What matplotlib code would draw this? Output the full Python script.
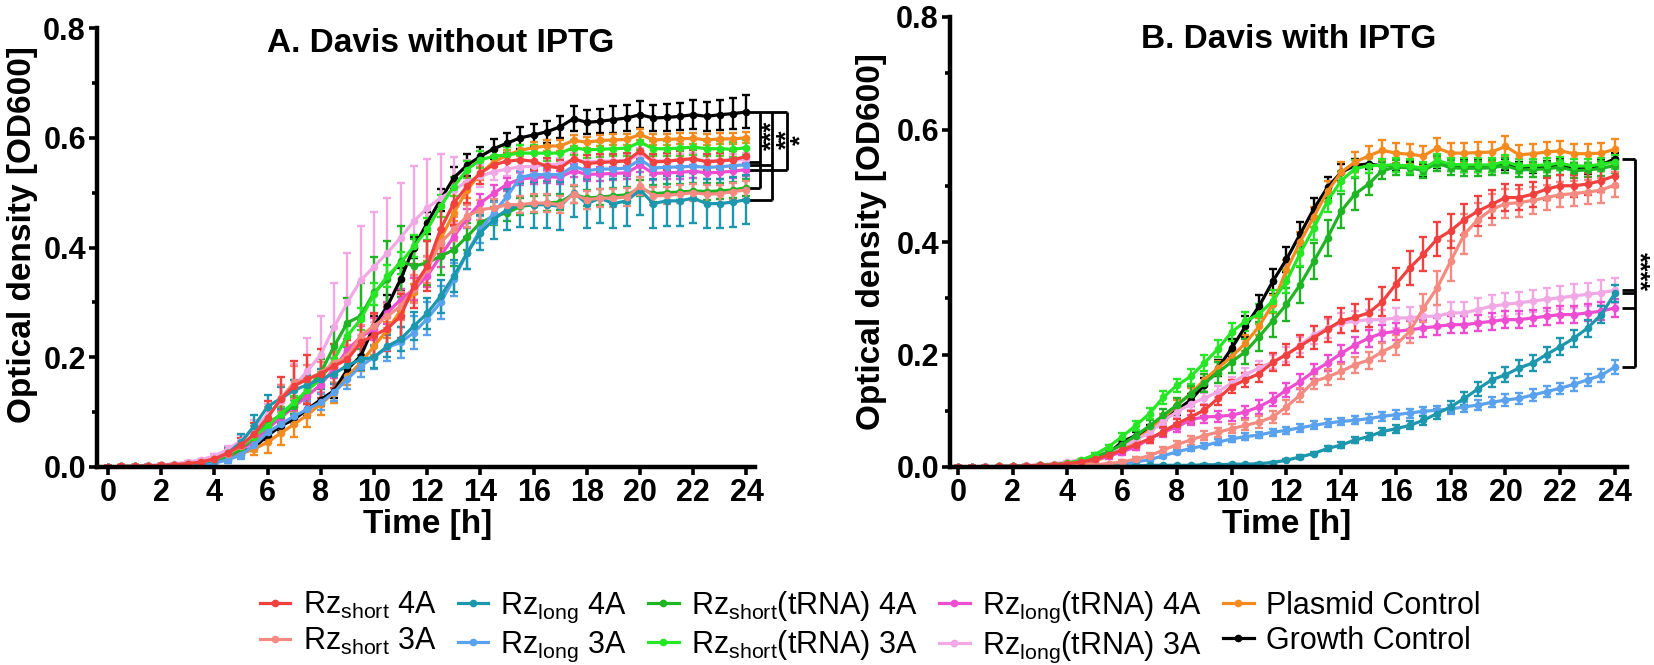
import matplotlib
matplotlib.use('Agg')
import matplotlib.pyplot as plt
from matplotlib.lines import Line2D
from matplotlib.ticker import MultipleLocator

plt.rcParams['font.family'] = ['Liberation Sans', 'DejaVu Sans']
plt.rcParams['mathtext.fontset'] = 'custom'
plt.rcParams['mathtext.rm'] = 'Liberation Sans'
plt.rcParams['mathtext.it'] = 'Liberation Sans:italic'
plt.rcParams['mathtext.bf'] = 'Liberation Sans:bold'

W, H = 1654, 665

time_h = [0, 0.5, 1, 1.5, 2, 2.5, 3, 3.5, 4, 4.5, 5, 5.5, 6, 6.5, 7, 7.5, 8, 8.5,
          9, 9.5, 10, 10.5, 11, 11.5, 12, 12.5, 13, 13.5, 14, 14.5, 15, 15.5, 16,
          16.5, 17, 17.5, 18, 18.5, 19, 19.5, 20, 20.5, 21, 21.5, 22, 22.5, 23, 23.5, 24]

series_names = ['short4A', 'short3A', 'long4A', 'long3A', 'shorttRNA4A', 'shorttRNA3A',
                'longtRNA4A', 'longtRNA3A', 'plasmid', 'growth']
legend_labels = [r'Rz$_{\mathregular{short}}$ 4A', r'Rz$_{\mathregular{short}}$ 3A',
                 r'Rz$_{\mathregular{long}}$ 4A', r'Rz$_{\mathregular{long}}$ 3A',
                 r'Rz$_{\mathregular{short}}$(tRNA) 4A', r'Rz$_{\mathregular{short}}$(tRNA) 3A',
                 r'Rz$_{\mathregular{long}}$(tRNA) 4A', r'Rz$_{\mathregular{long}}$(tRNA) 3A',
                 'Plasmid Control', 'Growth Control']
colors = {'short4A': '#F0413F', 'short3A': '#F58A80', 'long4A': '#1C97AE', 'long3A': '#5AA2EE',
          'shorttRNA4A': '#1FB424', 'shorttRNA3A': '#26E626', 'longtRNA4A': '#EE4DD2',
          'longtRNA3A': '#F2A8E4', 'plasmid': '#F58A1F', 'growth': '#000000'}

# ---------------- Panel A: Davis without IPTG ----------------
A_growth = [0.000, 0.001, 0.001, 0.002, 0.002, 0.003, 0.004, 0.006, 0.011, 0.018, 0.027, 0.036,
            0.057, 0.075, 0.087, 0.105, 0.123, 0.139, 0.178, 0.202, 0.257, 0.293, 0.342, 0.400,
            0.445, 0.487, 0.527, 0.550, 0.566, 0.580, 0.590, 0.600, 0.605, 0.611, 0.620, 0.635,
            0.628, 0.630, 0.633, 0.636, 0.642, 0.636, 0.637, 0.639, 0.642, 0.639, 0.642, 0.644, 0.647]
A_growth_err = [0.001, 0.001, 0.001, 0.001, 0.001, 0.001, 0.001, 0.002, 0.003, 0.004, 0.005, 0.006,
                0.008, 0.010, 0.010, 0.012, 0.012, 0.014, 0.015, 0.016, 0.018, 0.020, 0.020, 0.020,
                0.020, 0.020, 0.020, 0.020, 0.018, 0.018, 0.018, 0.020, 0.020, 0.020, 0.020, 0.022,
                0.022, 0.022, 0.024, 0.024, 0.025, 0.024, 0.025, 0.025, 0.026, 0.026, 0.027, 0.028, 0.030]
A_plasmid = [0.000, 0.000, 0.001, 0.001, 0.002, 0.002, 0.003, 0.005, 0.008, 0.014, 0.024, 0.033,
             0.045, 0.062, 0.078, 0.095, 0.115, 0.135, 0.165, 0.190, 0.220, 0.250, 0.285, 0.318,
             0.360, 0.415, 0.463, 0.505, 0.535, 0.556, 0.568, 0.577, 0.582, 0.585, 0.585, 0.595,
             0.592, 0.595, 0.596, 0.597, 0.606, 0.596, 0.597, 0.598, 0.599, 0.596, 0.598, 0.598, 0.600]
A_plasmid_err = [0.001, 0.001, 0.001, 0.001, 0.001, 0.001, 0.001, 0.001, 0.003, 0.005, 0.008, 0.012,
                 0.020, 0.022, 0.024, 0.022, 0.020, 0.018, 0.016, 0.015, 0.015, 0.015, 0.015, 0.016,
                 0.016, 0.016, 0.015, 0.014, 0.012, 0.010, 0.010, 0.010, 0.010, 0.010, 0.010, 0.010,
                 0.010, 0.010, 0.010, 0.010, 0.010, 0.010, 0.010, 0.010, 0.010, 0.010, 0.010, 0.010, 0.010]
A_shorttRNA3A = [0.000, 0.001, 0.001, 0.002, 0.002, 0.003, 0.005, 0.008, 0.014, 0.025, 0.038, 0.055,
                 0.075, 0.097, 0.118, 0.140, 0.160, 0.196, 0.239, 0.269, 0.315, 0.348, 0.372, 0.402,
                 0.433, 0.475, 0.511, 0.542, 0.560, 0.566, 0.569, 0.572, 0.572, 0.572, 0.572, 0.582,
                 0.578, 0.579, 0.580, 0.581, 0.592, 0.580, 0.580, 0.581, 0.583, 0.580, 0.580, 0.579, 0.582]
A_shorttRNA3A_err = [0.001, 0.001, 0.001, 0.001, 0.001, 0.001, 0.001, 0.001, 0.003, 0.004, 0.006, 0.008,
                     0.010, 0.012, 0.012, 0.014, 0.014, 0.016, 0.018, 0.020, 0.020, 0.020, 0.020, 0.020,
                     0.020, 0.020, 0.018, 0.016, 0.015, 0.014, 0.014, 0.014, 0.014, 0.014, 0.014, 0.014,
                     0.014, 0.014, 0.014, 0.014, 0.014, 0.014, 0.014, 0.014, 0.014, 0.014, 0.014, 0.014, 0.014]
A_longtRNA3A = [0.000, 0.001, 0.002, 0.003, 0.004, 0.006, 0.009, 0.013, 0.020, 0.032, 0.048, 0.070,
                0.095, 0.120, 0.148, 0.175, 0.205, 0.255, 0.300, 0.340, 0.365, 0.390, 0.418, 0.448,
                0.472, 0.490, 0.505, 0.520, 0.530, 0.538, 0.543, 0.547, 0.548, 0.550, 0.552, 0.560,
                0.556, 0.557, 0.558, 0.558, 0.570, 0.558, 0.558, 0.559, 0.561, 0.558, 0.558, 0.559, 0.561]
A_longtRNA3A_err = [0.002, 0.002, 0.002, 0.002, 0.002, 0.002, 0.002, 0.002, 0.004, 0.006, 0.010, 0.015,
                    0.020, 0.030, 0.040, 0.060, 0.070, 0.080, 0.090, 0.100, 0.100, 0.100, 0.100, 0.100,
                    0.090, 0.080, 0.060, 0.040, 0.020, 0.015, 0.012, 0.012, 0.012, 0.012, 0.012, 0.012,
                    0.012, 0.012, 0.012, 0.012, 0.012, 0.012, 0.012, 0.012, 0.012, 0.012, 0.012, 0.012, 0.012]
A_short4A = [0.000, 0.001, 0.001, 0.002, 0.003, 0.004, 0.006, 0.009, 0.015, 0.025, 0.040, 0.060,
             0.090, 0.124, 0.148, 0.160, 0.170, 0.184, 0.196, 0.227, 0.240, 0.252, 0.275, 0.330,
             0.366, 0.433, 0.481, 0.512, 0.536, 0.551, 0.557, 0.560, 0.557, 0.548, 0.545, 0.562,
             0.553, 0.555, 0.556, 0.558, 0.576, 0.556, 0.557, 0.560, 0.562, 0.556, 0.558, 0.560, 0.566]
A_short4A_err = [0.002, 0.002, 0.002, 0.002, 0.002, 0.002, 0.002, 0.002, 0.004, 0.008, 0.012, 0.020,
                 0.030, 0.040, 0.045, 0.045, 0.045, 0.040, 0.035, 0.040, 0.040, 0.040, 0.040, 0.040,
                 0.045, 0.045, 0.040, 0.030, 0.020, 0.015, 0.015, 0.015, 0.015, 0.015, 0.015, 0.015,
                 0.015, 0.015, 0.015, 0.015, 0.015, 0.015, 0.015, 0.015, 0.015, 0.015, 0.015, 0.015, 0.015]
A_long3A = [0.000, 0.000, 0.001, 0.001, 0.002, 0.002, 0.003, 0.004, 0.007, 0.013, 0.022, 0.040,
            0.063, 0.078, 0.093, 0.105, 0.118, 0.136, 0.160, 0.184, 0.200, 0.218, 0.227, 0.245,
            0.270, 0.300, 0.342, 0.390, 0.433, 0.463, 0.493, 0.528, 0.533, 0.533, 0.533, 0.548,
            0.540, 0.543, 0.543, 0.545, 0.560, 0.545, 0.546, 0.547, 0.548, 0.546, 0.547, 0.549, 0.551]
A_long3A_err = [0.001, 0.001, 0.001, 0.001, 0.001, 0.001, 0.001, 0.001, 0.003, 0.005, 0.008, 0.010,
                0.012, 0.014, 0.015, 0.015, 0.015, 0.016, 0.018, 0.020, 0.022, 0.025, 0.028, 0.030,
                0.030, 0.030, 0.030, 0.030, 0.025, 0.020, 0.015, 0.012, 0.012, 0.012, 0.012, 0.012,
                0.012, 0.012, 0.012, 0.012, 0.012, 0.012, 0.012, 0.012, 0.012, 0.012, 0.012, 0.012, 0.012]
A_longtRNA4A = [0.000, 0.000, 0.001, 0.001, 0.002, 0.003, 0.004, 0.006, 0.010, 0.018, 0.030, 0.048,
                0.070, 0.090, 0.110, 0.130, 0.150, 0.180, 0.213, 0.237, 0.251, 0.281, 0.305, 0.324,
                0.348, 0.384, 0.420, 0.453, 0.481, 0.499, 0.515, 0.525, 0.527, 0.529, 0.528, 0.540,
                0.533, 0.534, 0.535, 0.536, 0.550, 0.535, 0.536, 0.537, 0.539, 0.536, 0.537, 0.539, 0.542]
A_longtRNA4A_err = [0.001, 0.001, 0.001, 0.001, 0.001, 0.001, 0.001, 0.001, 0.003, 0.005, 0.008, 0.010,
                    0.012, 0.014, 0.015, 0.016, 0.016, 0.018, 0.020, 0.020, 0.020, 0.020, 0.020, 0.020,
                    0.020, 0.020, 0.020, 0.018, 0.016, 0.014, 0.012, 0.012, 0.012, 0.012, 0.012, 0.012,
                    0.012, 0.012, 0.012, 0.012, 0.012, 0.012, 0.012, 0.012, 0.012, 0.012, 0.012, 0.012, 0.012]
A_shorttRNA4A = [0.000, 0.000, 0.001, 0.001, 0.002, 0.003, 0.004, 0.006, 0.010, 0.018, 0.032, 0.055,
                 0.080, 0.095, 0.112, 0.142, 0.172, 0.220, 0.263, 0.275, 0.318, 0.342, 0.375, 0.366,
                 0.372, 0.384, 0.396, 0.420, 0.445, 0.457, 0.463, 0.475, 0.478, 0.481, 0.483, 0.497,
                 0.490, 0.492, 0.494, 0.496, 0.508, 0.498, 0.500, 0.501, 0.503, 0.502, 0.503, 0.505, 0.509]
A_shorttRNA4A_err = [0.001, 0.001, 0.001, 0.001, 0.001, 0.001, 0.001, 0.001, 0.003, 0.005, 0.008, 0.010,
                     0.012, 0.014, 0.016, 0.020, 0.025, 0.035, 0.045, 0.060, 0.065, 0.070, 0.065, 0.050,
                     0.040, 0.035, 0.030, 0.025, 0.020, 0.016, 0.015, 0.015, 0.015, 0.015, 0.015, 0.015,
                     0.015, 0.015, 0.015, 0.015, 0.015, 0.015, 0.015, 0.015, 0.015, 0.015, 0.015, 0.015, 0.015]
A_short3A = [0.000, 0.001, 0.001, 0.002, 0.003, 0.004, 0.006, 0.009, 0.014, 0.024, 0.038, 0.060,
             0.090, 0.125, 0.154, 0.160, 0.172, 0.190, 0.202, 0.239, 0.257, 0.275, 0.293, 0.324,
             0.360, 0.409, 0.433, 0.457, 0.469, 0.472, 0.478, 0.478, 0.481, 0.481, 0.478, 0.497,
             0.487, 0.490, 0.490, 0.492, 0.512, 0.494, 0.495, 0.497, 0.500, 0.497, 0.498, 0.502, 0.505]
A_short3A_err = [0.002, 0.002, 0.002, 0.002, 0.002, 0.002, 0.002, 0.002, 0.004, 0.006, 0.010, 0.015,
                 0.020, 0.025, 0.030, 0.025, 0.020, 0.020, 0.020, 0.020, 0.022, 0.022, 0.025, 0.025,
                 0.025, 0.025, 0.022, 0.020, 0.018, 0.016, 0.016, 0.016, 0.016, 0.016, 0.016, 0.016,
                 0.016, 0.016, 0.016, 0.016, 0.016, 0.016, 0.016, 0.016, 0.016, 0.016, 0.016, 0.016, 0.016]
A_long4A = [0.000, 0.001, 0.001, 0.002, 0.003, 0.004, 0.005, 0.007, 0.012, 0.025, 0.045, 0.075,
            0.110, 0.125, 0.140, 0.150, 0.160, 0.170, 0.185, 0.196, 0.200, 0.220, 0.233, 0.257,
            0.280, 0.311, 0.348, 0.390, 0.427, 0.451, 0.469, 0.478, 0.478, 0.478, 0.475, 0.500,
            0.480, 0.490, 0.480, 0.485, 0.505, 0.480, 0.485, 0.485, 0.490, 0.480, 0.480, 0.483, 0.487]
A_long4A_err = [0.002, 0.002, 0.002, 0.002, 0.002, 0.002, 0.002, 0.002, 0.005, 0.010, 0.015, 0.020,
                0.022, 0.020, 0.018, 0.018, 0.018, 0.018, 0.020, 0.020, 0.020, 0.020, 0.022, 0.025,
                0.028, 0.030, 0.030, 0.030, 0.032, 0.035, 0.038, 0.040, 0.042, 0.043, 0.044, 0.045,
                0.045, 0.045, 0.045, 0.045, 0.045, 0.045, 0.045, 0.045, 0.045, 0.045, 0.045, 0.045, 0.045]

# ---------------- Panel B: Davis with IPTG ----------------
B_growth = [0.000, 0.000, 0.000, 0.001, 0.001, 0.002, 0.003, 0.004, 0.006, 0.009, 0.014, 0.024,
            0.045, 0.056, 0.068, 0.083, 0.101, 0.119, 0.146, 0.176, 0.211, 0.250, 0.286, 0.330,
            0.369, 0.414, 0.459, 0.497, 0.524, 0.536, 0.539, 0.535, 0.537, 0.533, 0.528, 0.542,
            0.536, 0.535, 0.535, 0.534, 0.538, 0.532, 0.533, 0.534, 0.538, 0.530, 0.531, 0.537, 0.548]
B_growth_err = [0.001, 0.001, 0.001, 0.001, 0.001, 0.001, 0.001, 0.001, 0.002, 0.002, 0.003, 0.004,
                0.005, 0.006, 0.007, 0.008, 0.008, 0.010, 0.012, 0.014, 0.016, 0.018, 0.020, 0.022,
                0.022, 0.022, 0.020, 0.018, 0.015, 0.012, 0.010, 0.010, 0.010, 0.010, 0.010, 0.010,
                0.010, 0.010, 0.010, 0.010, 0.010, 0.010, 0.010, 0.010, 0.010, 0.010, 0.010, 0.010, 0.010]
B_plasmid = [0.000, 0.000, 0.000, 0.001, 0.001, 0.002, 0.003, 0.004, 0.005, 0.007, 0.010, 0.020,
             0.033, 0.048, 0.065, 0.087, 0.110, 0.130, 0.155, 0.176, 0.196, 0.220, 0.250, 0.290,
             0.350, 0.400, 0.445, 0.490, 0.524, 0.542, 0.553, 0.563, 0.558, 0.556, 0.553, 0.567,
             0.558, 0.558, 0.559, 0.560, 0.570, 0.555, 0.557, 0.560, 0.562, 0.557, 0.557, 0.558, 0.565]
B_plasmid_err = [0.001, 0.001, 0.001, 0.001, 0.001, 0.001, 0.001, 0.001, 0.002, 0.002, 0.003, 0.004,
                 0.005, 0.006, 0.007, 0.008, 0.009, 0.010, 0.010, 0.012, 0.012, 0.014, 0.015, 0.016,
                 0.018, 0.018, 0.018, 0.018, 0.018, 0.018, 0.018, 0.018, 0.018, 0.018, 0.018, 0.018,
                 0.018, 0.018, 0.018, 0.018, 0.018, 0.018, 0.018, 0.018, 0.018, 0.018, 0.018, 0.018, 0.018]
B_shorttRNA3A = [0.000, 0.000, 0.000, 0.001, 0.001, 0.002, 0.003, 0.004, 0.007, 0.012, 0.022, 0.036,
                 0.054, 0.074, 0.095, 0.124, 0.145, 0.161, 0.185, 0.210, 0.240, 0.259, 0.272, 0.295,
                 0.330, 0.380, 0.425, 0.473, 0.509, 0.530, 0.536, 0.536, 0.537, 0.535, 0.531, 0.545,
                 0.538, 0.537, 0.537, 0.537, 0.543, 0.535, 0.536, 0.537, 0.540, 0.535, 0.535, 0.538, 0.542]
B_shorttRNA3A_err = [0.001, 0.001, 0.001, 0.001, 0.001, 0.001, 0.001, 0.001, 0.002, 0.002, 0.003, 0.004,
                     0.006, 0.008, 0.010, 0.012, 0.012, 0.013, 0.014, 0.015, 0.016, 0.017, 0.018, 0.020,
                     0.020, 0.022, 0.022, 0.020, 0.018, 0.015, 0.013, 0.012, 0.012, 0.012, 0.012, 0.012,
                     0.012, 0.012, 0.012, 0.012, 0.012, 0.012, 0.012, 0.012, 0.012, 0.012, 0.012, 0.012, 0.012]
B_shorttRNA4A = [0.000, 0.000, 0.000, 0.001, 0.001, 0.002, 0.003, 0.004, 0.006, 0.010, 0.017, 0.027,
                 0.040, 0.056, 0.073, 0.092, 0.110, 0.130, 0.149, 0.168, 0.187, 0.205, 0.232, 0.260,
                 0.289, 0.324, 0.366, 0.408, 0.455, 0.485, 0.503, 0.527, 0.533, 0.532, 0.527, 0.540,
                 0.532, 0.531, 0.531, 0.532, 0.536, 0.528, 0.529, 0.530, 0.533, 0.527, 0.528, 0.531, 0.536]
B_shorttRNA4A_err = [0.001, 0.001, 0.001, 0.001, 0.001, 0.001, 0.001, 0.001, 0.002, 0.002, 0.003, 0.004,
                     0.006, 0.008, 0.010, 0.012, 0.012, 0.014, 0.016, 0.018, 0.020, 0.022, 0.025, 0.028,
                     0.030, 0.032, 0.032, 0.032, 0.030, 0.028, 0.020, 0.015, 0.013, 0.013, 0.013, 0.013,
                     0.013, 0.013, 0.013, 0.013, 0.013, 0.013, 0.013, 0.013, 0.013, 0.013, 0.013, 0.013, 0.013]
B_short4A = [0.000, 0.000, 0.000, 0.001, 0.001, 0.002, 0.003, 0.004, 0.006, 0.009, 0.014, 0.021,
             0.030, 0.040, 0.050, 0.063, 0.077, 0.089, 0.101, 0.122, 0.143, 0.155, 0.166, 0.186,
             0.200, 0.215, 0.230, 0.245, 0.260, 0.266, 0.274, 0.294, 0.325, 0.354, 0.378, 0.405,
             0.420, 0.440, 0.455, 0.467, 0.479, 0.479, 0.485, 0.494, 0.500, 0.500, 0.503, 0.509, 0.518]
B_short4A_err = [0.001, 0.001, 0.001, 0.001, 0.001, 0.001, 0.001, 0.001, 0.002, 0.002, 0.003, 0.004,
                 0.005, 0.006, 0.007, 0.008, 0.009, 0.010, 0.010, 0.012, 0.012, 0.013, 0.015, 0.016,
                 0.018, 0.020, 0.020, 0.022, 0.022, 0.024, 0.025, 0.026, 0.028, 0.030, 0.030, 0.030,
                 0.030, 0.028, 0.026, 0.025, 0.024, 0.022, 0.022, 0.020, 0.020, 0.020, 0.020, 0.020, 0.020]
B_short3A = [0.000, 0.000, 0.000, 0.000, 0.001, 0.001, 0.001, 0.001, 0.002, 0.003, 0.004, 0.006,
             0.009, 0.014, 0.020, 0.030, 0.040, 0.048, 0.056, 0.062, 0.068, 0.074, 0.080, 0.089,
             0.107, 0.128, 0.152, 0.160, 0.170, 0.182, 0.190, 0.205, 0.217, 0.241, 0.282, 0.318,
             0.366, 0.414, 0.440, 0.458, 0.468, 0.470, 0.474, 0.479, 0.484, 0.486, 0.489, 0.492, 0.502]
B_short3A_err = [0.001, 0.001, 0.001, 0.001, 0.001, 0.001, 0.001, 0.001, 0.001, 0.001, 0.002, 0.002,
                 0.003, 0.004, 0.005, 0.006, 0.007, 0.008, 0.008, 0.008, 0.008, 0.009, 0.010, 0.010,
                 0.012, 0.012, 0.014, 0.014, 0.014, 0.014, 0.015, 0.016, 0.018, 0.020, 0.025, 0.030,
                 0.035, 0.035, 0.030, 0.028, 0.026, 0.025, 0.024, 0.022, 0.022, 0.022, 0.022, 0.022, 0.022]
B_long4A = [0.000, 0.000, 0.000, 0.000, 0.001, 0.001, 0.001, 0.001, 0.001, 0.001, 0.002, 0.002,
            0.002, 0.002, 0.003, 0.003, 0.003, 0.003, 0.004, 0.004, 0.005, 0.005, 0.006, 0.008,
            0.012, 0.018, 0.024, 0.033, 0.039, 0.048, 0.054, 0.063, 0.068, 0.074, 0.083, 0.095,
            0.107, 0.122, 0.139, 0.155, 0.164, 0.176, 0.185, 0.200, 0.214, 0.229, 0.247, 0.271, 0.309]
B_long4A_err = [0.001, 0.001, 0.001, 0.001, 0.001, 0.001, 0.001, 0.001, 0.001, 0.001, 0.001, 0.001,
                0.001, 0.001, 0.001, 0.001, 0.001, 0.001, 0.001, 0.001, 0.001, 0.001, 0.001, 0.001,
                0.002, 0.003, 0.003, 0.004, 0.005, 0.005, 0.006, 0.006, 0.007, 0.007, 0.008, 0.009,
                0.010, 0.011, 0.012, 0.013, 0.013, 0.014, 0.014, 0.014, 0.015, 0.015, 0.015, 0.015, 0.015]
B_long3A = [0.000, 0.000, 0.000, 0.000, 0.001, 0.001, 0.001, 0.001, 0.001, 0.002, 0.003, 0.004,
            0.006, 0.009, 0.013, 0.020, 0.027, 0.033, 0.038, 0.044, 0.050, 0.054, 0.057, 0.062,
            0.065, 0.070, 0.074, 0.078, 0.081, 0.083, 0.086, 0.090, 0.093, 0.096, 0.099, 0.101,
            0.103, 0.107, 0.110, 0.115, 0.119, 0.122, 0.128, 0.134, 0.140, 0.147, 0.155, 0.163, 0.178]
B_long3A_err = [0.001, 0.001, 0.001, 0.001, 0.001, 0.001, 0.001, 0.001, 0.001, 0.001, 0.001, 0.002,
                0.002, 0.003, 0.003, 0.004, 0.004, 0.005, 0.005, 0.005, 0.006, 0.006, 0.006, 0.006,
                0.007, 0.007, 0.007, 0.007, 0.007, 0.007, 0.008, 0.008, 0.008, 0.008, 0.008, 0.008,
                0.008, 0.009, 0.009, 0.009, 0.010, 0.010, 0.010, 0.010, 0.010, 0.011, 0.011, 0.012, 0.012]
B_longtRNA4A = [0.000, 0.000, 0.000, 0.001, 0.001, 0.002, 0.003, 0.004, 0.006, 0.009, 0.013, 0.019,
                0.027, 0.036, 0.050, 0.062, 0.071, 0.084, 0.089, 0.090, 0.092, 0.098, 0.107, 0.120,
                0.137, 0.152, 0.170, 0.185, 0.202, 0.217, 0.229, 0.238, 0.241, 0.244, 0.247, 0.250,
                0.253, 0.253, 0.256, 0.259, 0.262, 0.262, 0.265, 0.268, 0.271, 0.271, 0.274, 0.277, 0.283]
B_longtRNA4A_err = [0.001, 0.001, 0.001, 0.001, 0.001, 0.001, 0.001, 0.001, 0.002, 0.002, 0.003, 0.004,
                    0.005, 0.006, 0.007, 0.008, 0.008, 0.009, 0.010, 0.010, 0.010, 0.011, 0.012, 0.012,
                    0.013, 0.014, 0.014, 0.015, 0.015, 0.015, 0.015, 0.015, 0.015, 0.015, 0.015, 0.015,
                    0.015, 0.015, 0.015, 0.015, 0.015, 0.015, 0.015, 0.015, 0.015, 0.015, 0.015, 0.016, 0.016]
B_longtRNA3A = [0.000, 0.000, 0.001, 0.001, 0.002, 0.003, 0.004, 0.006, 0.009, 0.013, 0.019, 0.027,
                0.036, 0.048, 0.061, 0.082, 0.098, 0.112, 0.122, 0.134, 0.149, 0.164, 0.176, 0.187,
                0.200, 0.217, 0.235, 0.247, 0.256, 0.259, 0.262, 0.262, 0.265, 0.265, 0.268, 0.268,
                0.274, 0.274, 0.280, 0.286, 0.289, 0.292, 0.295, 0.298, 0.301, 0.304, 0.307, 0.310, 0.314]
B_longtRNA3A_err = [0.001, 0.001, 0.001, 0.001, 0.001, 0.001, 0.001, 0.001, 0.002, 0.002, 0.003, 0.004,
                    0.005, 0.006, 0.007, 0.008, 0.009, 0.010, 0.010, 0.010, 0.011, 0.012, 0.012, 0.013,
                    0.014, 0.015, 0.016, 0.017, 0.018, 0.018, 0.018, 0.018, 0.018, 0.019, 0.019, 0.020,
                    0.020, 0.020, 0.020, 0.020, 0.020, 0.020, 0.020, 0.020, 0.020, 0.021, 0.021, 0.022, 0.022]

panelA = {'short4A': (A_short4A, A_short4A_err), 'short3A': (A_short3A, A_short3A_err),
          'long4A': (A_long4A, A_long4A_err), 'long3A': (A_long3A, A_long3A_err),
          'shorttRNA4A': (A_shorttRNA4A, A_shorttRNA4A_err), 'shorttRNA3A': (A_shorttRNA3A, A_shorttRNA3A_err),
          'longtRNA4A': (A_longtRNA4A, A_longtRNA4A_err), 'longtRNA3A': (A_longtRNA3A, A_longtRNA3A_err),
          'plasmid': (A_plasmid, A_plasmid_err), 'growth': (A_growth, A_growth_err)}
panelB = {'short4A': (B_short4A, B_short4A_err), 'short3A': (B_short3A, B_short3A_err),
          'long4A': (B_long4A, B_long4A_err), 'long3A': (B_long3A, B_long3A_err),
          'shorttRNA4A': (B_shorttRNA4A, B_shorttRNA4A_err), 'shorttRNA3A': (B_shorttRNA3A, B_shorttRNA3A_err),
          'longtRNA4A': (B_longtRNA4A, B_longtRNA4A_err), 'longtRNA3A': (B_longtRNA3A, B_longtRNA3A_err),
          'plasmid': (B_plasmid, B_plasmid_err), 'growth': (B_growth, B_growth_err)}

draw_order = ['growth', 'plasmid', 'longtRNA3A', 'longtRNA4A', 'shorttRNA4A', 'shorttRNA3A',
              'long3A', 'long4A', 'short3A', 'short4A']

fig = plt.figure(figsize=(W / 100, H / 100), dpi=100)
axA = fig.add_axes([97 / W, 1 - 467 / H, (755 - 97) / W, (467 - 28) / H])
axB = fig.add_axes([950 / W, 1 - 467 / H, (1627 - 950) / W, (467 - 17) / H])


def style(ax, xlim):
    ax.set_xlim(*xlim)
    ax.set_ylim(0, 0.8)
    ax.set_xticks(range(0, 25, 2))
    ax.set_yticks([0, 0.2, 0.4, 0.6, 0.8])
    ax.set_yticklabels(['0.0', '0.2', '0.4', '0.6', '0.8'])
    ax.yaxis.set_minor_locator(MultipleLocator(0.1))
    for s in ('top', 'right'):
        ax.spines[s].set_visible(False)
    for s in ('left', 'bottom'):
        ax.spines[s].set_linewidth(3.2)
    ax.tick_params(axis='both', which='major', direction='out', length=6, width=2.6,
                   labelsize=22, pad=2)
    ax.tick_params(axis='y', which='minor', direction='out', length=3.5, width=2.6)
    for lab in ax.get_xticklabels() + ax.get_yticklabels():
        lab.set_fontweight('bold')


def draw(ax, data):
    for name in draw_order:
        y, e = data[name]
        ax.errorbar(time_h, y, yerr=e, color=colors[name], lw=2.3, marker='o', ms=4.5,
                    elinewidth=1.7, capsize=3, capthick=1.7)


draw(axA, panelA)
draw(axB, panelB)
style(axA, (-0.41, 24.32))
style(axB, (-0.29, 24.44))

# significance brackets, panel A
bk = dict(color='k', lw=2.0, clip_on=False, solid_capstyle='butt')
topA = A_growth[-1]
axA.plot([24.1, 25.53], [topA, topA], **bk)
for xv, lows in [(24.51, [A_short3A[-1] + 0.05, A_shorttRNA4A[-1]]),
                 (24.96, [A_long3A[-1], A_long4A[-1]]),
                 (25.53, [A_longtRNA4A[-1]])]:
    axA.plot([xv, xv], [topA, min(lows)], **bk)
    for lv in lows:
        axA.plot([24.1, xv], [lv, lv], **bk)
for xv, yv, s in [(24.98, 0.605, '***'), (25.52, 0.598, '**'), (26.05, 0.596, '*')]:
    axA.text(xv, yv, s, rotation=90, ha='center', va='center', fontsize=18,
             fontweight='bold', clip_on=False)

# significance bracket, panel B
topB = B_growth[-1]
xb = 24.73
axB.plot([24.25, xb], [topB, topB], **bk)
lowsB = [B_longtRNA3A[-1], B_long4A[-1], B_longtRNA4A[-1], B_long3A[-1]]
axB.plot([xb, xb], [topB, min(lowsB)], **bk)
for lv in lowsB:
    axB.plot([24.25, xb], [lv, lv], **bk)
axB.text(24.87, 0.348, '****', rotation=270, ha='center', va='center', fontsize=18,
         fontweight='bold', clip_on=False)

# titles and labels
fig.text(441 / W, 1 - 44 / H, 'A. Davis without IPTG', ha='center', va='center',
         fontsize=24, fontweight='bold')
fig.text(1289 / W, 1 - 40 / H, 'B. Davis with IPTG', ha='center', va='center',
         fontsize=24, fontweight='bold')
fig.text(23 / W, 1 - 235 / H, 'Optical density [OD600]', rotation=90, ha='center',
         va='center', fontsize=24, fontweight='bold')
fig.text(872 / W, 1 - 242 / H, 'Optical density [OD600]', rotation=90, ha='center',
         va='center', fontsize=24, fontweight='bold')
fig.text(428 / W, 1 - 524 / H, 'Time [h]', ha='center', va='center', fontsize=24,
         fontweight='bold')
fig.text(1287 / W, 1 - 524 / H, 'Time [h]', ha='center', va='center', fontsize=24,
         fontweight='bold')

handles = [Line2D([0], [0], color=colors[n], lw=2.3, marker='o', ms=4.5) for n in series_names]
fig.legend(handles, legend_labels, ncol=5, loc='center', bbox_to_anchor=(870 / W, 1 - 627 / H),
           frameon=False, fontsize=22, handlelength=1.0, handletextpad=0.4,
           columnspacing=0.7, labelspacing=0.15, borderaxespad=0)

fig.savefig('out.png', dpi=100)
